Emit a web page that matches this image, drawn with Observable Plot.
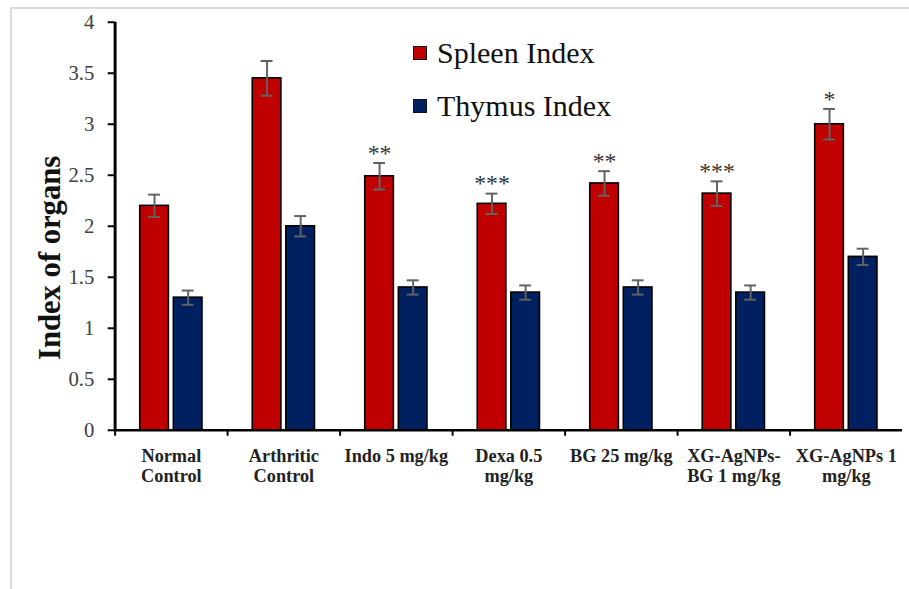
<!DOCTYPE html>
<html><head><meta charset="utf-8">
<script src="https://cdn.jsdelivr.net/npm/d3@7"></script>
<script src="https://cdn.jsdelivr.net/npm/@observablehq/plot@0.6"></script>
<style>
html,body{margin:0;padding:0;background:#fff;overflow:hidden;}
#wrap{position:relative;width:909px;height:589px;overflow:hidden;background:#fff;}
#chart{position:absolute;left:0;top:0;}
#frame{position:absolute;left:10px;top:7px;width:920px;height:600px;border-left:2px solid #dcdcdc;border-top:2px solid #dcdcdc;pointer-events:none;}
.lg{position:absolute;font-family:"Liberation Serif","Times New Roman",serif;font-size:30px;line-height:30px;color:#111;white-space:nowrap;}
.sw{position:absolute;width:12px;height:12px;border:1.5px solid #111;}
</style></head><body>
<div id="wrap"><div id="chart"></div><div id="frame"></div><div id="legend"></div></div>
<script>
const groups = ["Normal Control","Arthritic Control","Indo 5 mg/kg","Dexa 0.5 mg/kg","BG 25 mg/kg","XG-AgNPs-BG 1 mg/kg","XG-AgNPs 1 mg/kg"];
const groupLabels = ["Normal\nControl","Arthritic\nControl","Indo 5 mg/kg","Dexa 0.5\nmg/kg","BG 25 mg/kg","XG-AgNPs-\nBG 1 mg/kg","XG-AgNPs 1\nmg/kg"];
const seriesNames = ["Spleen Index","Thymus Index"];
const spleen = [2.20, 3.45, 2.49, 2.22, 2.42, 2.32, 3.00];
const spleenErr = [0.11, 0.17, 0.13, 0.10, 0.12, 0.12, 0.15];
const thymus = [1.30, 2.00, 1.40, 1.35, 1.40, 1.35, 1.70];
const thymusErr = [0.07, 0.10, 0.07, 0.07, 0.07, 0.07, 0.08];
const significance = ["", "", "**", "***", "**", "***", "*"];
const colors = ["#c00000", "#002060"];
const yTicks = [0, 0.5, 1, 1.5, 2, 2.5, 3, 3.5, 4];
const yTitle = "Index of organs";

const W = 920, H = 589, ML = 116, MR = 7, MT = 22, MB = 154;
const step = (W - ML - MR) / groups.length;
const barW = 29, off = 17;

const spleenRows = groups.map((g, i) => ({group: g, value: spleen[i], err: spleenErr[i], sig: significance[i]}));
const thymusRows = groups.map((g, i) => ({group: g, value: thymus[i], err: thymusErr[i]}));
const serif = "Liberation Serif, Times New Roman, serif";
const errColor = "#626262";

function seriesMarks(rows, color, dx) {
  return [
    Plot.barY(rows, {x: "group", y: "value", dx, fill: color, stroke: "#000", strokeWidth: 1.6}),
    Plot.ruleX(rows, {x: "group", y1: d => d.value - d.err, y2: d => d.value + d.err, dx, stroke: errColor, strokeWidth: 2}),
    Plot.tickY(rows, {x: "group", y: d => d.value + d.err, dx, insetLeft: 8.5, insetRight: 8.5, stroke: errColor, strokeWidth: 2}),
    Plot.tickY(rows, {x: "group", y: d => d.value - d.err, dx, insetLeft: 8.5, insetRight: 8.5, stroke: errColor, strokeWidth: 2})
  ];
}

const chart = Plot.plot({
  width: W, height: H,
  marginLeft: ML, marginRight: MR, marginTop: MT, marginBottom: MB,
  style: {background: "#fff", fontFamily: serif, overflow: "visible"},
  x: {domain: groups, paddingInner: 1 - barW / step, paddingOuter: (1 - barW / step) / 2, round: false, label: null},
  y: {domain: [0, 4], label: null},
  marks: [
    ...seriesMarks(spleenRows, colors[0], -off),
    ...seriesMarks(thymusRows, colors[1], off),
    Plot.text(spleenRows, {x: "group", y: d => d.value + d.err, text: "sig", dx: -off, dy: -10, fontSize: 24, fill: "#333", fontFamily: serif}),
    Plot.ruleY([0], {stroke: "#000", strokeWidth: 2.5}),
    Plot.ruleX([groups[0]], {dx: -step / 2, y1: 0, y2: 4, stroke: "#000", strokeWidth: 3}),
    Plot.axisY({ticks: yTicks, tickSize: 7, tickPadding: 14, tickFormat: d => String(d), fontSize: 21, fontFamily: serif, stroke: "#000", strokeWidth: 2, fill: "#404040", label: null}),
    Plot.axisX({tickSize: 6, dx: -step / 2, tickFormat: () => "", stroke: "#000", strokeWidth: 2, label: null}),
    Plot.axisX({tickSize: 0, tickPadding: 18, tickFormat: d => groupLabels[groups.indexOf(d)], fontSize: 18.5, fontWeight: "bold", fontFamily: serif, lineHeight: 1.1, fill: "#222", label: null}),
    Plot.text([yTitle], {text: d => d, frameAnchor: "left", textAnchor: "middle", lineAnchor: "middle", rotate: -90, dx: -66, dy: 32, fontSize: 31, fontWeight: "bold", fontFamily: serif, fill: "#111"})
  ]
});
document.getElementById("chart").appendChild(chart);

const legend = document.getElementById("legend");
const legendTops = [38, 91];
seriesNames.forEach((name, i) => {
  const sw = document.createElement("div");
  sw.className = "sw";
  sw.style.background = colors[i];
  sw.style.left = "413px";
  sw.style.top = (legendTops[i] + 8) + "px";
  legend.appendChild(sw);
  const t = document.createElement("div");
  t.className = "lg";
  t.textContent = name;
  t.style.left = "437px";
  t.style.top = legendTops[i] + "px";
  legend.appendChild(t);
});
</script>
</body></html>
